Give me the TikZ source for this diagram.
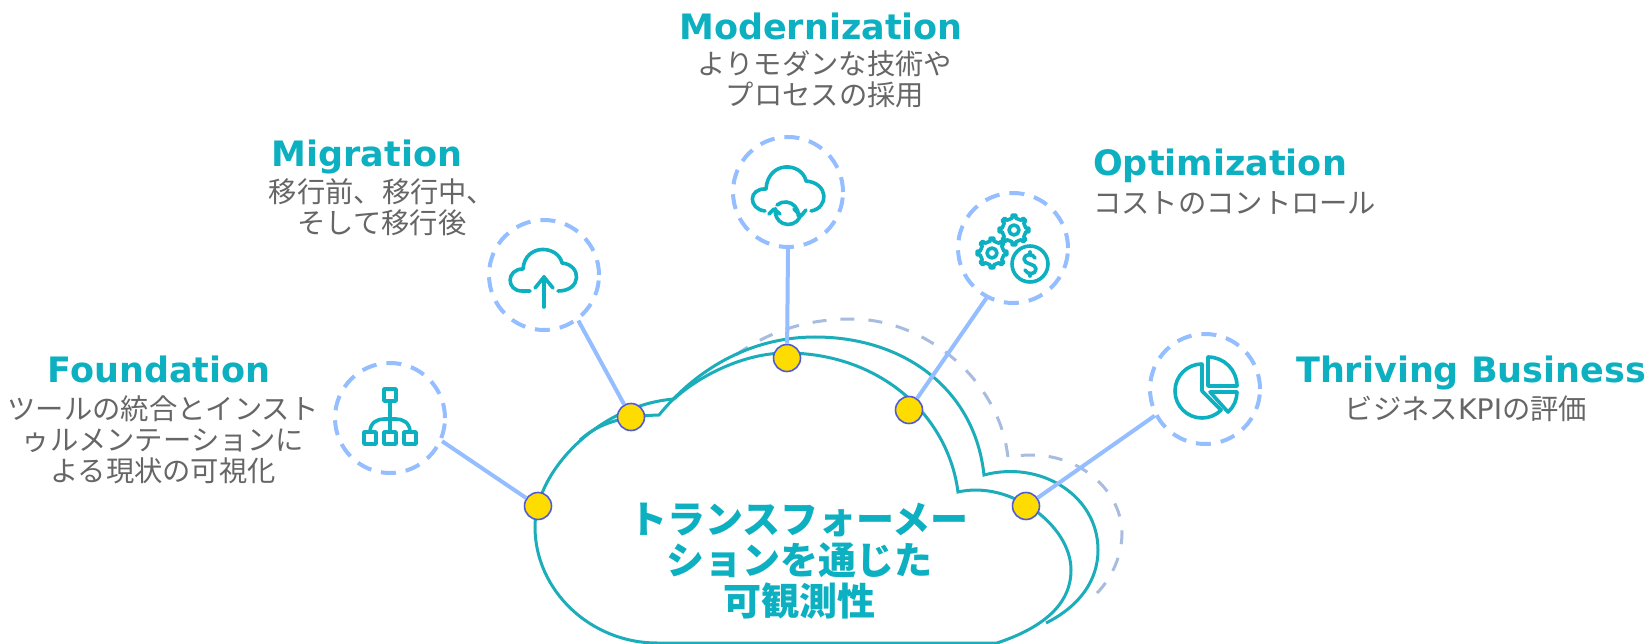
\documentclass[tikz,border=0pt]{standalone}
\usepackage{fontspec}
\setmainfont{DejaVu Sans}
\newfontfamily\cjk{Noto Sans CJK JP}
\usepackage{xcolor}
\usepackage{tikz}
\usetikzlibrary{positioning}

\definecolor{tealmain}{HTML}{0DB0C0}
\definecolor{cloudline}{HTML}{1BADBA}
\definecolor{bluelink}{HTML}{94BEFF}
\definecolor{bluedash}{HTML}{A8BCE0}
\definecolor{greytext}{HTML}{666666}
\definecolor{dotfill}{HTML}{FFDC00}
\definecolor{dotline}{HTML}{4F5BD5}

\begin{document}
\begin{tikzpicture}[
		x=1pt,y=-1pt,
		head/.style={inner sep=0pt,text=tealmain,font=\bfseries\fontsize{35}{38}\selectfont,text height=25pt,text depth=7pt},
		body/.style={inner sep=0pt,text=greytext,align=center,font=\cjk\fontsize{28.3}{31}\selectfont},
		title/.style={inner sep=0pt,text=tealmain,align=center,font=\cjk\bfseries\fontsize{38}{41}\selectfont},
		iconring/.style={circle,draw=bluelink,line width=4pt,dash pattern=on 15pt off 10pt,fill=white,minimum size=110pt,inner sep=0pt},
		dot/.style={circle,draw=dotline,fill=dotfill,line width=1.6pt,minimum size=27pt,inner sep=0pt},
		link/.style={draw=bluelink,line width=4pt},
		cloudedge/.style={draw=cloudline,line width=3pt,line join=miter},
		cloudback/.style={draw=bluedash,line width=3pt,dash pattern=on 14pt off 14pt},
		icon/.style={draw=tealmain,line width=3.6pt,line cap=round,line join=round}
		]
		\useasboundingbox (0,0) rectangle (1650,644);
		\clip (0,0) rectangle (1650,644);
		
		% dashed outline behind the cloud
		\draw[cloudback] (736,355) .. controls (775,327) and (815,319) .. (852,319) .. controls (925,319) and (1000,380) .. (1008,458) .. controls (1016,456) and (1022,455) .. (1031,455) .. controls (1085,455) and (1122,495) .. (1122,533) .. controls (1122,555) and (1112,578) .. (1097,593);
		
		% back cloud
		\draw[cloudedge] (580,440) .. controls (600,422) and (625,416) .. (659,415) .. controls (700,365) and (755,337) .. (815,337) .. controls (905,337) and (975,390) .. (984,475) .. controls (1040,460) and (1098,495) .. (1098,550) .. controls (1098,580) and (1080,606) .. (1046,623);
		
		% front cloud
		\draw[cloudedge] (657,643) .. controls (590,643) and (535,590) .. (535,527) .. controls (535,470) and (600,405) .. (674,399) .. controls (700,375) and (745,353) .. (786,353) .. controls (880,353) and (948,415) .. (958,492) .. controls (1010,480) and (1071,525) .. (1071,570) .. controls (1071,605) and (1042,628) .. (997,643) -- cycle;
		
		\node[title] (cloudtitle) at (799,561) {トランスフォーメー\\ションを通じた\\可観測性};
		
		% icons and dots
		\node[iconring] (foundring) at (390,418) {};
		\node[iconring] (migring) at (544,275) {};
		\node[iconring] (modring) at (788,192) {};
		\node[iconring] (optring) at (1013,248) {};
		\node[iconring] (thrivering) at (1205,389) {};
		
		\node[dot] (founddot) at (538,506) {};
		\node[dot] (migdot) at (631,417) {};
		\node[dot] (moddot) at (787,358) {};
		\node[dot] (optdot) at (909,410) {};
		\node[dot] (thrivedot) at (1026,506) {};
		
		\draw[link] (foundring.-24) -- (founddot);
		\draw[link] (migring.-53) -- (migdot);
		\draw[link] (modring.-90) -- (moddot);
		\draw[link] (optring.242) -- (optdot);
		\draw[link] (thrivering.208) -- (thrivedot);
		
		% foundation icon
		\begin{scope}[shift={(foundring.center)}]
			\draw[icon] (-6,-29) rectangle (6,-17);
			\draw[icon] (0,-17) -- (0,14);
			\draw[icon] (-20,14) .. controls (-20,4) and (-12,1) .. (-6,1) -- (6,1) .. controls (12,1) and (20,4) .. (20,14);
			\foreach \ix in {-20,0,20}
				\draw[icon] (\ix-6,14) rectangle (\ix+6,26);
		\end{scope}
		
		% migration icon
		\begin{scope}[shift={(migring.center)}]
			\draw[icon] (-14,16) -- (-22,16) .. controls (-38,16) and (-38,-6) .. (-21,-6) .. controls (-19,-32) and (14,-30) .. (18,-12) .. controls (38,-10) and (38,16) .. (14,16);
			\draw[icon] (0,32) -- (0,2);
			\draw[icon] (-9,13) -- (0,2) -- (9,13);
		\end{scope}
		
		% modernization icon
		\begin{scope}[shift={(modring.center)}]
			\draw[icon] (-23,19) .. controls (-40,17) and (-40,-4) .. (-22,-3) .. controls (-20,-32) and (14,-30) .. (18,-11) .. controls (41,-9) and (41,16) .. (23,19);
			\draw[icon] (-11,13) arc[start angle=130,end angle=-5,radius=13pt];
			\draw[icon] (6,17) -- (13,24) -- (18,18);
			\draw[icon] (12,25) arc[start angle=-25,end angle=-193,radius=13pt];
			\draw[icon] (-19,22) -- (-14,17) -- (-8,22);
		\end{scope}
		
		% optimization icon
		\begin{scope}[shift={(optring.center)}]
			\foreach \gx/\gy in {-21/5,1/-18} {
				\begin{scope}[shift={(\gx,\gy)}]
					\draw[icon,fill=white] (-9:12) \foreach \ga in {0,45,...,315} { -- (\ga-9:12) -- (\ga-7:15) -- (\ga+7:15) -- (\ga+9:12) } -- cycle;
					\draw[icon] (0,0) circle[radius=5pt];
				\end{scope}
			}
			\begin{scope}[shift={(17,16)}]
				\draw[icon,fill=white] (0,0) circle[radius=18pt];
				\draw[icon] (5,-6) .. controls (3,-11) and (-6,-10) .. (-6,-5) .. controls (-6,1) and (6,-1) .. (6,5) .. controls (6,11) and (-3,11) .. (-5,6);
				\draw[icon] (0,-12) -- (0,-10);
				\draw[icon] (0,10) -- (0,12);
			\end{scope}
		\end{scope}
		
		% thriving business icon
		\begin{scope}[shift={(thrivering.center)}]
			\draw[icon] (-3,-25) arc[start angle=90,end angle=315,radius=27pt] -- (-3,2) -- cycle;
			\draw[icon] (3,-3) -- (3,-32) arc[start angle=90,end angle=0,radius=29pt] -- cycle;
			\draw[icon] (5,3) -- (32,3) arc[start angle=0,end angle=-48,radius=27pt] -- cycle;
		\end{scope}
		
		% labels
		\node[head,anchor=base] (foundhead) at (159,383) {Foundation};
		\node[body,below=5pt of foundhead,xshift=4pt] (foundtext) {ツールの統合とインスト\\ゥルメンテーションに\\よる現状の可視化};
		\node[head,anchor=base] (mighead) at (367,167) {Migration};
		\node[body,below=4pt of mighead,xshift=15pt] (migtext) {移行前、移行中、\\そして移行後};
		\node[head,anchor=base] (modhead) at (821,40) {Modernization};
		\node[body,below=3pt of modhead,xshift=4pt] (modtext) {よりモダンな技術や\\プロセスの採用};
		\node[head,anchor=base west] (opthead) at (1093,176) {Optimization};
		\node[body,below right=8pt and 0pt of opthead.south west] (opttext) {コストのコントロール};
		\node[head,anchor=base] (thrivehead) at (1471,383) {Thriving Business};
		\node[body,below=5pt of thrivehead,xshift=-5pt] (thrivetext) {ビジネス{\rmfamily KPI}の評価};
	\end{tikzpicture}
\end{document}
